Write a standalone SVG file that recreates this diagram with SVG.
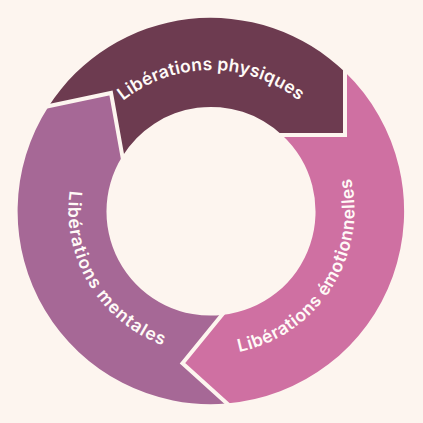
<svg xmlns="http://www.w3.org/2000/svg" width="423" height="423" viewBox="0 0 423 423">
  <style>
    .bg { fill: #fdf5ef; }
    .sep { fill: none; stroke: #fdf5ef; stroke-width: 4; stroke-linejoin: miter; stroke-miterlimit: 10; }
    .lbl { font-family: Inter, "Open Sans", "Liberation Sans", sans-serif; font-size: 17.5px; font-weight: 600; fill: #fffaf7; }
  </style>
  <defs>
    <path id="arcPhys" d="M 70,211 A 141 141 0 0 1 352,211"/>
    <path id="arcMent" d="M 136.8,87.6 A 144 144 0 0 0 285.2,334.4"/>
    <path id="arcEmo" d="M 132.5,332.9 A 145 145 0 0 0 289.5,89.1"/>
  </defs>
  <rect class="bg" x="0" y="0" width="423" height="423"/>

  <g id="node-physiques">
    <path fill="#6d3b50" d="M 48.5,106.4 A 193 193 0 0 1 345,72.1 L 345,135 L 282,135 A 104 104 0 0 0 122.4,156.3 L 111,93 Z"/>
    <text class="lbl"><textPath href="#arcPhys" startOffset="50%" text-anchor="middle" textLength="190" lengthAdjust="spacing">Libérations physiques</textPath></text>
  </g>

  <g id="node-emotionnelles">
    <path fill="#cf70a2" d="M 345,72.1 A 193 193 0 0 1 226.4,403.5 L 182.5,363.3 L 221.7,315 A 104 104 0 0 0 282,135 L 345,135 Z"/>
    <text class="lbl"><textPath href="#arcEmo" startOffset="50%" text-anchor="middle" textLength="230" lengthAdjust="spacing">Libérations émotionnelles</textPath></text>
  </g>

  <g id="node-mentales">
    <path fill="#a66896" d="M 226.4,403.5 A 193 193 0 0 1 48.5,106.4 L 111,93 L 122.4,156.3 A 104 104 0 0 0 221.7,315 L 182.5,363.3 Z"/>
    <text class="lbl"><textPath href="#arcMent" startOffset="50%" text-anchor="middle" textLength="195" lengthAdjust="spacing">Libérations mentales</textPath></text>
  </g>

  <g id="connectors">
    <polyline class="sep" points="35,109 111,93 124.5,168"/>
    <polyline class="sep" points="345,55 345,135 272,135"/>
    <polyline class="sep" points="230,305 182.5,363.3 242,417"/>
  </g>
</svg>
